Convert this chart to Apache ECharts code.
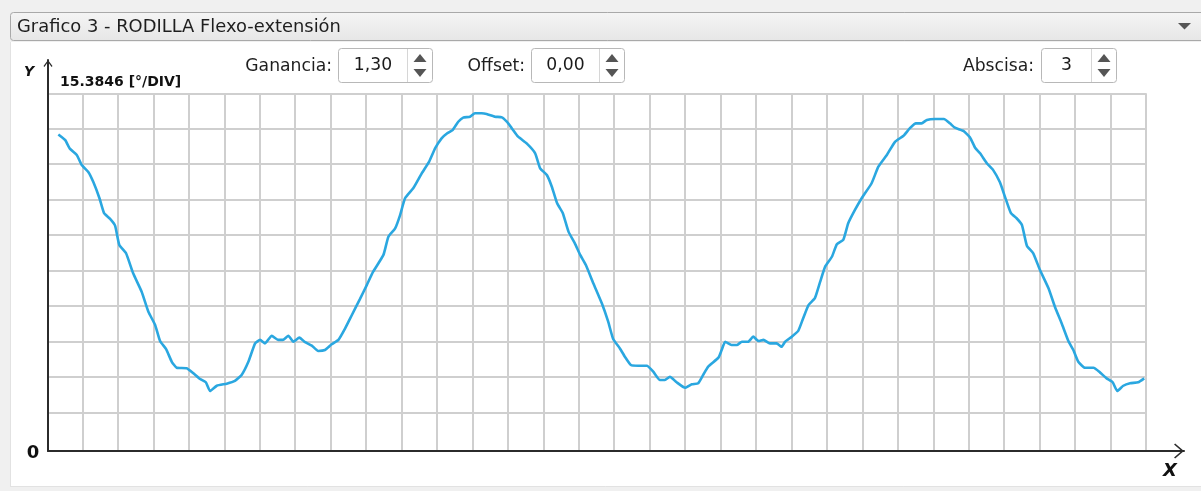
<!DOCTYPE html>
<html>
<head>
<meta charset="utf-8">
<script src="https://cdn.jsdelivr.net/npm/echarts@6.0.0/dist/echarts.min.js"></script>
<style>
html,body{margin:0;padding:0;background:#f0f0f0;}
#chart{width:1201px;height:491px;}
</style>
</head>
<body>
<div id="chart"></div>
<script>
// ---- data (x in divisions, y in degrees) ----
const chartTitle = 'Grafico 3 - RODILLA Flexo-extensión';
const degPerDiv = 15.3846;
const yDivisions = 10;
const xDivisions = 31;
const yUnitLabel = '15.3846 [°/DIV]';
const controlLabels = ['Ganancia:', 'Offset:', 'Abscisa:'];
const controlValues = ['1,30', '0,00', '3'];

const xDiv = [0.32,0.51,0.65,0.84,0.98,1.17,1.31,1.48,1.61,1.78,
1.92,2.04,2.23,2.43,2.67,2.86,3.05,3.19,3.36,3.52,
3.66,3.94,4.13,4.32,4.48,4.60,4.79,5.07,5.30,5.49,
5.68,5.87,6.01,6.15,6.34,6.52,6.65,6.81,6.95,7.12,
7.28,7.47,7.65,7.84,8.03,8.22,8.41,8.60,8.83,9.02,
9.20,9.49,9.63,9.82,9.96,10.10,10.33,10.57,10.78,10.95,
11.13,11.29,11.44,11.60,11.74,11.93,12.07,12.26,12.40,12.64,
12.83,12.97,13.11,13.29,13.53,13.77,13.91,14.10,14.24,14.39,
14.55,14.71,14.89,15.04,15.20,15.41,15.65,15.83,15.97,16.16,
16.30,16.47,16.68,16.92,17.10,17.29,17.43,17.57,17.76,18.00,
18.19,18.37,18.51,18.65,18.94,19.03,19.13,19.31,19.46,19.60,
19.78,19.92,20.07,20.21,20.39,20.58,20.72,20.82,21.01,21.19,
21.33,21.48,21.66,21.81,21.95,22.14,22.28,22.46,22.60,22.79,
22.98,23.26,23.45,23.69,23.92,24.16,24.34,24.51,24.67,24.82,
25.05,25.30,25.47,25.61,25.85,26.04,26.18,26.32,26.51,26.69,
26.88,27.02,27.19,27.35,27.50,27.64,27.82,28.01,28.25,28.43,
28.62,28.81,28.95,29.09,29.28,29.52,29.70,29.89,30.06,30.19,
30.36,30.55,30.78,30.95];

const angleDeg = [136.0,133.6,129.7,127.1,122.7,119.6,115.2,108.3,101.8,99.3,
96.4,88.0,84.4,75.7,67.7,59.0,53.3,46.3,42.8,37.3,
34.7,34.5,32.3,29.8,28.4,24.6,26.9,27.8,29.0,31.6,
37.3,45.3,46.8,45.3,48.6,46.8,46.8,48.6,46.0,47.8,
45.8,44.3,42.0,42.4,44.9,46.8,51.8,57.6,64.6,70.6,
76.4,83.7,91.6,95.2,101.0,108.3,112.6,119.1,124.2,130.0,
134.3,136.5,137.9,141.5,143.3,143.7,145.2,145.2,144.9,143.7,
143.4,141.5,138.7,135.0,132.1,127.8,121.3,118.4,113.3,106.1,
101.8,93.8,88.7,83.7,79.3,71.4,62.7,54.7,47.2,43.1,
39.5,35.9,35.6,35.6,33.0,29.4,29.4,30.8,28.4,26.0,
27.5,28.0,31.6,35.2,39.1,42.4,46.0,44.6,44.6,46.0,
46.0,48.2,46.3,46.8,45.3,45.3,43.8,46.0,48.2,50.7,
56.2,61.9,64.9,72.1,78.6,82.9,88.3,90.2,97.4,103.2,
108.3,114.8,122.0,127.1,132.8,135.4,138.7,140.8,140.8,142.3,
142.7,142.7,140.8,138.9,137.5,134.6,130.2,127.8,123.5,120.5,
115.2,109.0,101.8,99.6,96.7,87.7,84.4,77.1,69.2,61.2,
54.0,46.3,42.4,37.3,34.7,34.7,32.7,30.1,28.4,24.6,
26.9,28.0,28.4,30.1];

// ---- build ----
const seriesData = xDiv.map((x, i) => [x, angleDeg[i]]);
const gridColor = '#cfcfcf';
const axisColor = '#2b2b2b';
const uiFont = '"DejaVu Sans", sans-serif';

function txt(text, x, y, font, fill, align, valign) {
  return { type: 'text', x: x, y: y, silent: true,
    style: { text: text, font: font, fill: fill, align: align || 'left', verticalAlign: valign || 'middle' } };
}
function spinBox(x1, x2, divX, value) {
  const els = [];
  els.push({ type: 'rect', shape: { x: x1 + 0.5, y: 48.5, width: x2 - x1, height: 34, r: 3 },
    style: { fill: '#ffffff', stroke: '#b8b8b8', lineWidth: 1 } });
  els.push({ type: 'line', shape: { x1: divX + 0.5, y1: 49, x2: divX + 0.5, y2: 82 },
    style: { stroke: '#d6d6d6', lineWidth: 1 } });
  const cx = (divX + x2) / 2 + 0.5;
  els.push({ type: 'polygon', shape: { points: [[cx - 6.5, 62], [cx + 6.5, 62], [cx, 54]] }, style: { fill: '#555555' } });
  els.push({ type: 'polygon', shape: { points: [[cx - 6.5, 69], [cx + 6.5, 69], [cx, 77]] }, style: { fill: '#555555' } });
  els.push(txt(value, (x1 + divX) / 2 + 0.5, 66, '17.2px ' + uiFont, '#1a1a1a', 'center'));
  return els;
}

const graphics = [
  // outer gray frame
  { type: 'rect', shape: { x: 0, y: 0, width: 1201, height: 42 }, style: { fill: '#f0f0f0' } },
  { type: 'rect', shape: { x: 0, y: 0, width: 10, height: 491 }, style: { fill: '#f0f0f0' } },
  { type: 'rect', shape: { x: 0, y: 486, width: 1201, height: 5 }, style: { fill: '#f0f0f0' } },
  { type: 'line', shape: { x1: 10.5, y1: 42, x2: 10.5, y2: 486 }, style: { stroke: '#e2e2e2', lineWidth: 1 } },
  { type: 'line', shape: { x1: 10, y1: 486.5, x2: 1201, y2: 486.5 }, style: { stroke: '#e2e2e2', lineWidth: 1 } },
  // combobox
  { type: 'rect', shape: { x: 10.5, y: 12.5, width: 1200, height: 28, r: 3 },
    style: { stroke: '#a9a9a9', lineWidth: 1,
      fill: new echarts.graphic.LinearGradient(0, 0, 0, 1, [{ offset: 0, color: '#f5f5f5' }, { offset: 1, color: '#e6e6e6' }]) } },
  txt(chartTitle, 17, 27.5, '17.9px ' + uiFont, '#1e1e1e', 'left'),
  { type: 'polygon', shape: { points: [[1178, 23], [1191, 23], [1184.5, 29.5]] }, style: { fill: '#555555' } },
  // control labels
  txt(controlLabels[0], 332, 67, '17.2px ' + uiFont, '#1e1e1e', 'right'),
  txt(controlLabels[1], 525, 67, '17.2px ' + uiFont, '#1e1e1e', 'right'),
  txt(controlLabels[2], 1034, 67, '17.2px ' + uiFont, '#1e1e1e', 'right'),
  ...spinBox(338, 432, 407, controlValues[0]),
  ...spinBox(531, 624, 599, controlValues[1]),
  ...spinBox(1041, 1116, 1091, controlValues[2]),
  // axis captions
  txt('Y', 29, 72.5, 'italic bold 14px ' + uiFont, '#111111', 'center'),
  txt(yUnitLabel, 60, 82.5, 'bold 14px ' + uiFont, '#111111', 'left'),
  txt('0', 33, 453, 'bold 18px ' + uiFont, '#111111', 'center'),
  txt('X', 1170, 471.5, 'italic bold 18px ' + uiFont, '#111111', 'center')
];

const arrowX = 'path://M7.5,0 L15,8.8 L13.9,9.9 L7.5,2.4 L1.1,9.9 L0,8.8 Z';
const arrowY = 'path://M4.5,0 L9,6 L8.1,7 L4.5,2 L0.9,7 L0,6 Z';

const option = {
  backgroundColor: '#ffffff',
  animation: false,
  graphic: { elements: graphics },
  grid: [
    { left: 47, top: 93.3, width: 1099, height: 354.4, containLabel: false },
    { left: 47, top: 93.3, width: 1099, height: 357.7, containLabel: false },
    { left: 48, top: 60, width: 1136, height: 391, containLabel: false }
  ],
  xAxis: [
    { gridIndex: 0, type: 'value', min: 0, max: xDivisions, interval: 1,
      axisLine: { show: false }, axisTick: { show: false }, axisLabel: { show: false }, splitLine: { show: false } },
    { gridIndex: 1, type: 'value', min: 0, max: xDivisions, interval: 1,
      axisLine: { show: false }, axisTick: { show: false }, axisLabel: { show: false },
      splitLine: { show: true, showMinLine: false, lineStyle: { color: gridColor, width: 2 } } },
    { gridIndex: 2, type: 'value', min: 0, max: 1,
      axisLine: { show: true, onZero: false, symbol: ['none', arrowX], symbolSize: [15, 10], symbolOffset: [0, -5],
        lineStyle: { color: axisColor, width: 2 } },
      axisTick: { show: false }, axisLabel: { show: false }, splitLine: { show: false } }
  ],
  yAxis: [
    { gridIndex: 0, type: 'value', min: 0, max: degPerDiv * yDivisions, interval: degPerDiv,
      axisLine: { show: false }, axisTick: { show: false }, axisLabel: { show: false },
      splitLine: { show: true, showMinLine: false, lineStyle: { color: gridColor, width: 2 } } },
    { gridIndex: 1, type: 'value', min: 0, max: 1, show: false },
    { gridIndex: 2, type: 'value', min: 0, max: 1,
      axisLine: { show: true, onZero: false, symbol: ['none', arrowY], symbolSize: [9, 7], symbolOffset: [0, -3.5],
        lineStyle: { color: axisColor, width: 2 } },
      axisTick: { show: false }, axisLabel: { show: false }, splitLine: { show: false } }
  ],
  series: [{
    type: 'line', xAxisIndex: 0, yAxisIndex: 0, data: seriesData,
    showSymbol: false, symbol: 'none', smooth: 0.15, z: 5,
    lineStyle: { color: '#2aa7e0', width: 2.6 }
  }]
};

const chart = echarts.init(document.getElementById('chart'), null, { renderer: 'canvas' });
chart.setOption(option);
</script>
</body>
</html>
